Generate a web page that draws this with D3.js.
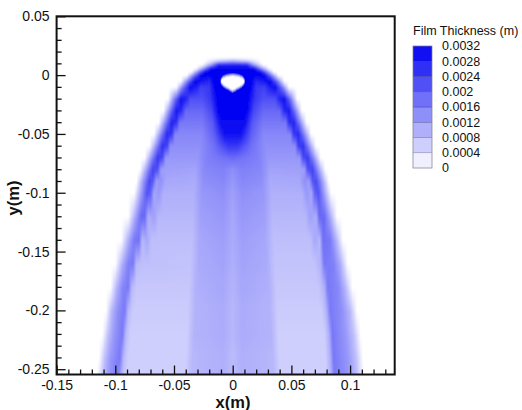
<!DOCTYPE html>
<html>
<head>
<meta charset="utf-8">
<script src="https://cdn.jsdelivr.net/npm/d3@7"></script>
<style>
  body { margin: 0; background: #fff; }
  svg { font-family: "Liberation Sans", Arial, sans-serif; }
</style>
</head>
<body>
<svg id="chart" width="522" height="410"></svg>
<script>
// film thickness, values in 1e-4 m
const UNIT = 1e-4;

const rowY = [0.015, 0.012, 0.009, 0.006, 0.003, 0, -0.005, -0.01, -0.02, -0.03, -0.04, -0.05, -0.06,
  -0.07, -0.08, -0.09, -0.1, -0.12, -0.14, -0.16, -0.18, -0.2, -0.22, -0.24, -0.26];

// [x (m), thickness] stops along each row
const rowStops = [
  [[-0.15, 0], [0.14, 0]],
  [[-0.024, 0], [-0.012, 7], [0, 11], [0.012, 7], [0.024, 0]],
  [[-0.026, 0], [-0.018, 12], [-0.012, 28], [0.012, 28], [0.018, 12], [0.026, 0]],
  [[-0.031, 0], [-0.024, 14], [-0.018, 31], [0.018, 31], [0.024, 14], [0.031, 0]],
  [[-0.035, 0], [-0.029, 16], [-0.023, 32], [0.023, 32], [0.029, 16], [0.035, 0]],
  [[-0.039, 0], [-0.033, 17], [-0.027, 32], [0.027, 32], [0.033, 17], [0.039, 0]],
  [[-0.044, 0], [-0.038, 18], [-0.032, 32], [-0.026, 29], [-0.02, 27], [-0.016, 32], [0.016, 32], [0.02, 27], [0.026, 29], [0.032, 32], [0.038, 18], [0.044, 0]],
  [[-0.048, 0], [-0.042, 18], [-0.036, 31], [-0.031, 28], [-0.027, 24], [-0.02, 25], [-0.015, 32], [0.015, 32], [0.02, 25], [0.027, 24], [0.031, 28], [0.036, 31], [0.042, 18], [0.048, 0]],
  [[-0.055, 0], [-0.049, 18], [-0.044, 30], [-0.04, 28], [-0.036, 22], [-0.026, 22], [-0.019, 25], [-0.013, 32], [0.013, 32], [0.019, 25], [0.026, 22], [0.036, 22], [0.04, 28], [0.044, 30], [0.049, 18], [0.055, 0]],
  [[-0.059, 0], [-0.053, 17], [-0.048, 29], [-0.044, 27], [-0.04, 19], [-0.026, 19], [-0.018, 23], [-0.012, 32], [0.012, 32], [0.018, 23], [0.026, 19], [0.04, 19], [0.044, 27], [0.048, 29], [0.053, 17], [0.059, 0]],
  [[-0.063, 0], [-0.057, 16], [-0.052, 28], [-0.048, 26], [-0.045, 17], [-0.026, 17], [-0.017, 21], [-0.01, 31], [0.01, 31], [0.017, 21], [0.026, 17], [0.045, 17], [0.048, 26], [0.052, 28], [0.057, 16], [0.063, 0]],
  [[-0.067, 0], [-0.061, 15], [-0.056, 27], [-0.052, 25], [-0.049, 15], [-0.026, 15], [-0.016, 20], [-0.007, 30], [0.007, 30], [0.016, 20], [0.026, 15], [0.049, 15], [0.052, 25], [0.056, 27], [0.061, 15], [0.067, 0]],
  [[-0.071, 0], [-0.065, 14], [-0.06, 26], [-0.056, 24], [-0.053, 14], [-0.028, 14], [-0.016, 18], [-0.004, 25], [0.004, 25], [0.016, 18], [0.028, 14], [0.053, 14], [0.056, 24], [0.06, 26], [0.065, 14], [0.071, 0]],
  [[-0.075, 0], [-0.069, 14], [-0.064, 25], [-0.06, 23], [-0.057, 13], [-0.03, 13], [-0.022, 16], [-0.005, 18], [0, 19], [0.005, 18], [0.022, 16], [0.03, 13], [0.057, 13], [0.06, 23], [0.064, 25], [0.069, 14], [0.075, 0]],
  [[-0.079, 0], [-0.073, 13], [-0.068, 24], [-0.064, 22], [-0.061, 12], [-0.032, 11.5], [-0.024, 15], [-0.008, 16], [0, 14], [0.008, 16], [0.024, 15], [0.032, 11.5], [0.061, 12], [0.064, 22], [0.068, 24], [0.073, 13], [0.079, 0]],
  [[-0.082, 0], [-0.076, 13], [-0.071, 23], [-0.068, 21], [-0.065, 12], [-0.061, 14], [-0.057, 11], [-0.032, 10.5], [-0.025, 14], [-0.008, 15], [0, 13], [0.008, 15], [0.025, 14], [0.032, 10.5], [0.057, 11], [0.061, 14], [0.065, 12], [0.068, 21], [0.071, 23], [0.076, 13], [0.082, 0]],
  [[-0.084, 0], [-0.078, 12], [-0.073, 22], [-0.07, 20], [-0.067, 11], [-0.063, 13], [-0.059, 10], [-0.033, 10], [-0.026, 13], [-0.008, 14], [0, 12], [0.008, 14], [0.026, 13], [0.033, 10], [0.059, 10], [0.063, 13], [0.067, 11], [0.07, 20], [0.073, 22], [0.078, 12], [0.084, 0]],
  [[-0.089, 0], [-0.083, 11], [-0.078, 19], [-0.075, 19], [-0.072, 10], [-0.067, 12], [-0.063, 9], [-0.034, 9], [-0.027, 12], [-0.008, 13], [0, 11], [0.008, 13], [0.027, 12], [0.034, 9], [0.062, 9], [0.066, 12], [0.071, 10], [0.074, 19], [0.078, 19], [0.083, 11], [0.089, 0]],
  [[-0.095, 0], [-0.089, 10], [-0.084, 17], [-0.08, 18], [-0.077, 9], [-0.073, 11], [-0.069, 8], [-0.035, 8], [-0.028, 11], [-0.008, 12], [0, 10.5], [0.008, 12], [0.028, 11], [0.035, 8], [0.066, 8], [0.07, 11], [0.074, 9], [0.077, 18], [0.083, 17], [0.088, 10], [0.094, 0]],
  [[-0.1, 0], [-0.094, 10], [-0.089, 16], [-0.085, 17], [-0.082, 9], [-0.078, 8], [-0.036, 7.5], [-0.029, 10.5], [-0.008, 11.5], [0, 10], [0.008, 11.5], [0.029, 10.5], [0.036, 7.5], [0.07, 7.5], [0.075, 10], [0.078, 17], [0.086, 16], [0.092, 10], [0.098, 0]],
  [[-0.104, 0], [-0.099, 9], [-0.094, 15], [-0.089, 17], [-0.086, 9], [-0.082, 7], [-0.037, 7], [-0.031, 10], [-0.008, 11], [0, 9.5], [0.008, 11], [0.031, 10], [0.037, 7], [0.073, 7], [0.078, 10], [0.081, 17], [0.09, 15], [0.096, 9], [0.102, 0]],
  [[-0.108, 0], [-0.103, 9], [-0.098, 14], [-0.092, 17], [-0.089, 9], [-0.085, 6.5], [-0.038, 6.5], [-0.032, 9.5], [-0.008, 10.5], [0, 9], [0.008, 10.5], [0.032, 9.5], [0.038, 6.5], [0.076, 6.5], [0.08, 10], [0.083, 17], [0.093, 14], [0.1, 9], [0.106, 0]],
  [[-0.111, 0], [-0.106, 8], [-0.101, 13], [-0.094, 17], [-0.091, 9], [-0.087, 6], [-0.039, 6], [-0.033, 9.5], [-0.008, 10.5], [0, 9], [0.008, 10.5], [0.033, 9.5], [0.039, 6], [0.078, 6], [0.082, 10], [0.085, 17], [0.096, 13], [0.103, 8], [0.109, 0]],
  [[-0.114, 0], [-0.109, 8], [-0.104, 13], [-0.096, 17], [-0.093, 9], [-0.089, 6], [-0.04, 6], [-0.034, 9], [-0.008, 10], [0, 8.5], [0.008, 10], [0.034, 9], [0.04, 6], [0.079, 6], [0.083, 10], [0.086, 17], [0.098, 13], [0.105, 8], [0.111, 0]],
  [[-0.116, 0], [-0.111, 8], [-0.106, 13], [-0.098, 17], [-0.095, 9], [-0.091, 6], [-0.041, 6], [-0.035, 9], [-0.008, 10], [0, 8.5], [0.008, 10], [0.035, 9], [0.041, 6], [0.08, 6], [0.084, 10], [0.087, 17], [0.099, 13], [0.106, 8], [0.112, 0]]
];

// dry spot near the top of the sheet (x, y in m)
const holeOutline = [[0, 0], [0.005, -0.0006], [0.0088, -0.0025], [0.0103, -0.0055], [0.008, -0.0088],
  [0.004, -0.0112], [0, -0.0134], [-0.004, -0.0112], [-0.008, -0.0088], [-0.0103, -0.0055],
  [-0.0088, -0.0025], [-0.005, -0.0006]];

const legendLevels = [0, 0.0004, 0.0008, 0.0012, 0.0016, 0.002, 0.0024, 0.0028, 0.0032];
const xMajor = [-0.15, -0.1, -0.05, 0, 0.05, 0.1];
const yMajor = [0.05, 0, -0.05, -0.1, -0.15, -0.2, -0.25];
const xMinor = d3.range(-14, 14).filter(i => i % 5 !== 0).map(i => i / 100);
const yMinor = d3.range(-24, 5).filter(i => i % 5 !== 0).map(i => i / 100);

const svg = d3.select('#chart');
const defs = svg.append('defs');

const x = d3.scaleLinear().domain([-0.15, 0.138]).range([56.6, 394.7]);
const y = d3.scaleLinear().domain([-0.2545, 0.05]).range([374.5, 16.3]);
const color = d3.scaleLinear().domain([0, 0.0032]).range(['#ffffff', '#0000f2']).clamp(true);

const x0 = x.range()[0], x1 = x.range()[1];
const yTop = y.range()[1], yBot = y.range()[0];

defs.append('clipPath').attr('id', 'plotClip')
  .append('rect').attr('x', x0).attr('y', yTop).attr('width', x1 - x0).attr('height', yBot - yTop);

defs.append('filter').attr('id', 'soft')
  .append('feGaussianBlur').attr('stdDeviation', '0.7 1');

const fadeGrad = defs.append('linearGradient').attr('id', 'fadeGrad')
  .attr('x1', 0).attr('y1', 0).attr('x2', 0).attr('y2', 1);
fadeGrad.append('stop').attr('offset', 0).attr('stop-color', '#000');
fadeGrad.append('stop').attr('offset', 1).attr('stop-color', '#fff');
defs.append('mask').attr('id', 'fade').attr('maskContentUnits', 'objectBoundingBox')
  .append('rect').attr('width', 1).attr('height', 1).attr('fill', 'url(#fadeGrad)');

rowStops.forEach((stops, i) => {
  const g = defs.append('linearGradient').attr('id', 'row' + i)
    .attr('gradientUnits', 'userSpaceOnUse')
    .attr('x1', x0).attr('x2', x1).attr('y1', 0).attr('y2', 0);
  stops.forEach(([sx, v]) => {
    g.append('stop')
      .attr('offset', Math.max(0, Math.min(1, (x(sx) - x0) / (x1 - x0))))
      .attr('stop-color', color(v * UNIT));
  });
});

const field = svg.append('g').attr('clip-path', 'url(#plotClip)')
  .append('g').attr('filter', 'url(#soft)');

// each band shows the upper row, then the lower row fades in over it
for (let i = 0; i < rowY.length - 1; i++) {
  const top = y(rowY[i]);
  const h = y(rowY[i + 1]) - top + 0.6;
  field.append('rect').attr('x', x0).attr('y', top).attr('width', x1 - x0).attr('height', h)
    .attr('fill', `url(#row${i})`);
  field.append('rect').attr('x', x0).attr('y', top).attr('width', x1 - x0).attr('height', h)
    .attr('fill', `url(#row${i + 1})`).attr('mask', 'url(#fade)');
}

const holeLine = d3.line().x(d => x(d[0])).y(d => y(d[1])).curve(d3.curveCatmullRomClosed);
field.append('path').attr('d', holeLine(holeOutline)).attr('fill', '#fff');

// axes, ticks point into the plot
const fmt = d => d === 0 ? '0' : String(+d.toFixed(2));

function styleAxis(g, size) {
  g.select('.domain').remove();
  g.selectAll('line').attr('stroke', '#111').attr('stroke-width', 1.3);
  g.selectAll('text').attr('fill', '#111').attr('font-size', size);
  g.attr('font-family', null);
}

svg.append('g').attr('transform', `translate(${x0},0)`)
  .call(d3.axisLeft(y).tickValues(yMinor).tickSize(-5).tickFormat(''))
  .call(g => styleAxis(g, 14));
svg.append('g').attr('transform', `translate(${x0},0)`)
  .call(d3.axisLeft(y).tickValues(yMajor).tickSize(-9).tickPadding(7).tickFormat(fmt))
  .call(g => styleAxis(g, 14));
svg.append('g').attr('transform', `translate(0,${yBot})`)
  .call(d3.axisBottom(x).tickValues(xMinor).tickSize(-5).tickFormat(''))
  .call(g => styleAxis(g, 14));
svg.append('g').attr('transform', `translate(0,${yBot})`)
  .call(d3.axisBottom(x).tickValues(xMajor).tickSize(-9).tickPadding(6).tickFormat(fmt))
  .call(g => styleAxis(g, 14));

svg.append('rect')
  .attr('x', x0).attr('y', yTop).attr('width', x1 - x0).attr('height', yBot - yTop)
  .attr('fill', 'none').attr('stroke', '#111').attr('stroke-width', 2);

svg.append('text').attr('x', 233).attr('y', 407.5).attr('text-anchor', 'middle')
  .attr('font-size', 16.5).attr('font-weight', 'bold').attr('fill', '#111').text('x(m)');
svg.append('text').attr('transform', 'translate(19,198) rotate(-90)').attr('text-anchor', 'middle')
  .attr('font-size', 16.5).attr('font-weight', 'bold').attr('fill', '#111').text('y(m)');

// legend
const ly = d3.scaleLinear().domain([0, 0.0032]).range([168, 46]);
const legend = svg.append('g');
legend.append('text').attr('x', 413).attr('y', 35).attr('font-size', 12.5).attr('fill', '#111')
  .text('Film Thickness (m)');

d3.pairs(legendLevels).forEach(([lo, hi]) => {
  legend.append('rect').attr('x', 413).attr('y', ly(hi)).attr('width', 19).attr('height', ly(lo) - ly(hi))
    .attr('fill', color((lo + hi) / 2))
    .attr('stroke', 'rgba(0,0,70,0.3)').attr('stroke-width', 0.6);
});
legend.append('rect').attr('x', 413).attr('y', ly(0.0032)).attr('width', 19).attr('height', ly(0) - ly(0.0032))
  .attr('fill', 'none').attr('stroke', '#999').attr('stroke-width', 0.6);

legend.selectAll('.lab').data(legendLevels).enter().append('text')
  .attr('x', 442).attr('y', d => ly(d)).attr('dy', '0.35em')
  .attr('font-size', 12.5).attr('fill', '#111')
  .text(d => d === 0 ? '0' : String(+d.toFixed(4)));
</script>
</body>
</html>
